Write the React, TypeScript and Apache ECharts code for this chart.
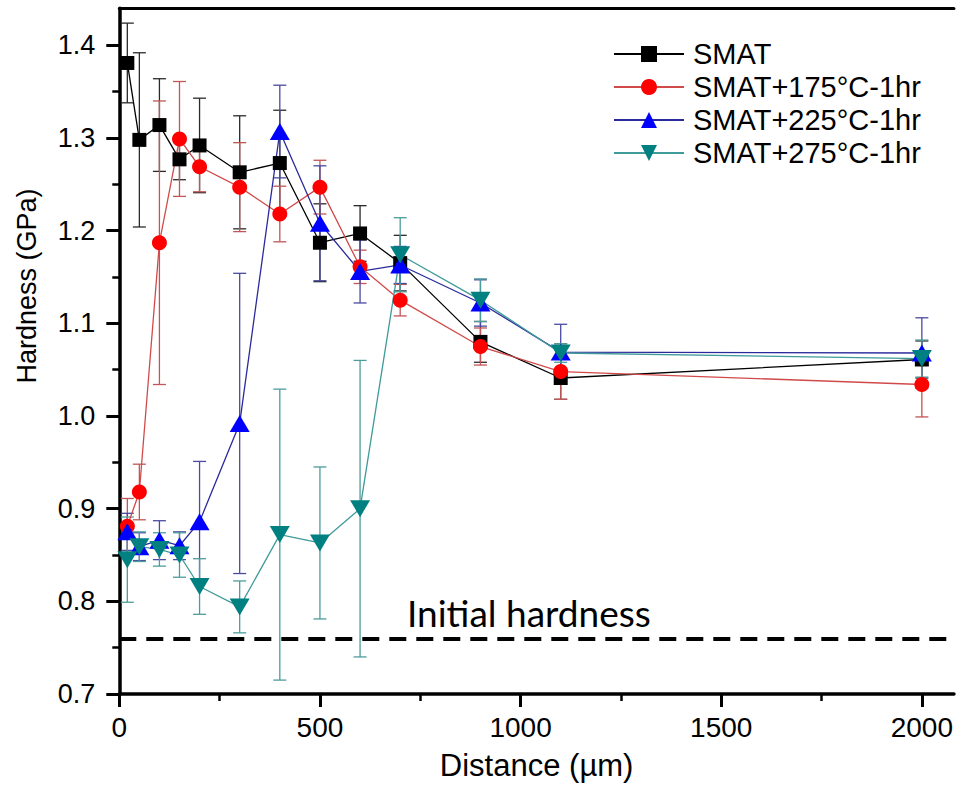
import React, { useEffect, useRef } from "react";
import * as echarts from "echarts";

const distance = [20, 50, 100, 150, 200, 300, 400, 500, 600, 700, 900, 1100, 2000];
const smat = [1.381, 1.298, 1.314, 1.277, 1.292, 1.263, 1.273, 1.187, 1.197, 1.165, 1.080, 1.041, 1.061];
const smatErr = [0.043, 0.094, 0.050, 0.022, 0.051, 0.061, 0.057, 0.042, 0.030, 0.030, 0.022, 0.023, 0.020];
const t175 = [0.881, 0.918, 1.187, 1.299, 1.269, 1.247, 1.218, 1.247, 1.161, 1.125, 1.075, 1.048, 1.034];
const t175Err = [0.030, 0.030, 0.153, 0.062, 0.027, 0.048, 0.030, 0.029, 0.018, 0.017, 0.020, 0.030, 0.035];
const t225 = [0.875, 0.859, 0.866, 0.860, 0.886, 0.992, 1.307, 1.208, 1.156, 1.163, 1.122, 1.069, 1.068];
const t225Err = [0.020, 0.015, 0.021, 0.015, 0.065, 0.162, 0.050, 0.062, 0.034, 0.020, 0.025, 0.030, 0.038];
const t275 = [0.845, 0.859, 0.856, 0.850, 0.816, 0.794, 0.872, 0.863, 0.900, 1.174, 1.125, 1.068, 1.062];
const t275Err = [0.046, 0.016, 0.018, 0.024, 0.030, 0.028, 0.157, 0.082, 0.160, 0.040, 0.023, 0.010, 0.020];
const initialHardness = 0.758;

const seriesNames = ["SMAT", "SMAT+175°C-1hr", "SMAT+225°C-1hr", "SMAT+275°C-1hr"];
const xMajor = [0, 500, 1000, 1500, 2000];
const xMinor = [250, 750, 1250, 1750];
const yMajor = [0.7, 0.8, 0.9, 1.0, 1.1, 1.2, 1.3, 1.4];
const yMinor = [0.75, 0.85, 0.95, 1.05, 1.15, 1.25, 1.35];

const FONT = "Liberation Sans, Arial, sans-serif";

export default function App() {
  const ref = useRef<HTMLDivElement>(null);
  useEffect(() => {
    if (!ref.current) return;
    const chart = echarts.init(ref.current, undefined, { renderer: "svg" });

    const groups = [
      { name: seriesNames[0], vals: smat, errs: smatErr, line: "#000000", mark: "#000000", err: "#2a2a2a", symbol: "rect", size: 14, rot: 0 },
      { name: seriesNames[1], vals: t175, errs: t175Err, line: "#d04a4a", mark: "#ff0000", err: "#c25555", symbol: "circle", size: 15, rot: 0 },
      { name: seriesNames[2], vals: t225, errs: t225Err, line: "#2a2a9c", mark: "#0000ff", err: "#4a4aa0", symbol: "triangle", size: [20, 17], rot: 0 },
      { name: seriesNames[3], vals: t275, errs: t275Err, line: "#3f9a9a", mark: "#008080", err: "#4d9c9c", symbol: "triangle", size: [20, 17], rot: 180 },
    ];

    const series: any[] = [];
    groups.forEach((g, gi) => {
      series.push({
        type: "custom",
        name: g.name + " error",
        data: distance.map((d, i) => [d, g.vals[i] - g.errs[i], g.vals[i] + g.errs[i]]),
        encode: { x: 0, y: [1, 2] },
        z: 2,
        renderItem: (params: any, api: any) => {
          const x = api.value(0);
          const lo = api.coord([x, api.value(1)]);
          const hi = api.coord([x, api.value(2)]);
          const hw = 6.5;
          const style = { stroke: g.err, lineWidth: 1.3, fill: "none" };
          return {
            type: "group",
            children: [
              { type: "line", shape: { x1: lo[0], y1: lo[1], x2: hi[0], y2: hi[1] }, style },
              { type: "line", shape: { x1: lo[0] - hw, y1: lo[1], x2: lo[0] + hw, y2: lo[1] }, style },
              { type: "line", shape: { x1: hi[0] - hw, y1: hi[1], x2: hi[0] + hw, y2: hi[1] }, style },
            ],
          };
        },
      });
      const s: any = {
        type: "line",
        name: g.name,
        data: distance.map((d, i) => [d, g.vals[i]]),
        symbol: g.symbol,
        symbolSize: g.size,
        symbolRotate: g.rot,
        showAllSymbol: true,
        lineStyle: { color: g.line, width: 1.3 },
        itemStyle: { color: g.mark, borderWidth: 0 },
        z: 2,
      };
      if (gi === 0) {
        s.markLine = {
          silent: true,
          symbol: "none",
          label: { show: false },
          lineStyle: { color: "#000", width: 4, type: [17, 10] },
          data: [{ yAxis: initialHardness }],
        };
      }
      series.push(s);
    });

    const option: any = {
      animation: false,
      backgroundColor: "#ffffff",
      grid: { left: 119.3, right: 0, top: 8.3, bottom: 104, containLabel: false },
      legend: {
        data: seriesNames,
        orient: "vertical",
        left: 608,
        top: 33,
        itemWidth: 70,
        itemHeight: 20,
        itemGap: 1,
        textStyle: { fontFamily: FONT, fontSize: 29, lineHeight: 32, color: "#000", padding: [0, 0, 0, 4] },
      },
      xAxis: [
        {
          type: "value",
          min: 0,
          max: 2080,
          position: "bottom",
          name: "Distance (µm)",
          nameLocation: "middle",
          nameGap: 56,
          nameTextStyle: { fontFamily: FONT, fontSize: 31, color: "#000" },
          axisLine: { show: true, lineStyle: { color: "#000", width: 3.5 } },
          axisTick: { show: true, customValues: xMajor, length: 13, lineStyle: { color: "#000", width: 3 } },
          axisLabel: {
            customValues: xMajor,
            fontFamily: FONT,
            fontSize: 28,
            color: "#000",
            margin: 19,
            formatter: (v: number) => String(Math.round(v)),
          },
          splitLine: { show: false },
        },
        {
          type: "value",
          min: 0,
          max: 2080,
          position: "bottom",
          axisLine: { show: false },
          axisTick: { show: true, customValues: xMinor, length: 7, lineStyle: { color: "#000", width: 2.5 } },
          axisLabel: { show: false },
          splitLine: { show: false },
        },
        {
          type: "value",
          min: 0,
          max: 2080,
          position: "top",
          axisLine: { show: true, lineStyle: { color: "#000", width: 3 } },
          axisTick: { show: false },
          axisLabel: { show: false },
          splitLine: { show: false },
        },
      ],
      yAxis: [
        {
          type: "value",
          min: 0.7,
          max: 1.44,
          position: "left",
          axisLine: { show: true, lineStyle: { color: "#000", width: 3.5 } },
          axisTick: { show: true, customValues: yMajor, length: 13, lineStyle: { color: "#000", width: 3 } },
          axisLabel: {
            customValues: yMajor,
            fontFamily: FONT,
            fontSize: 27,
            color: "#000",
            margin: 24,
            formatter: (v: number) => v.toFixed(1),
          },
          splitLine: { show: false },
        },
        {
          type: "value",
          min: 0.7,
          max: 1.44,
          position: "left",
          axisLine: { show: false },
          axisTick: { show: true, customValues: yMinor, length: 7, lineStyle: { color: "#000", width: 2.5 } },
          axisLabel: { show: false },
          splitLine: { show: false },
        },
      ],
      graphic: [
        {
          type: "text",
          x: 27,
          y: 286,
          rotation: Math.PI / 2,
          style: {
            text: "Hardness (GPa)",
            fontFamily: FONT,
            fontSize: 27,
            fill: "#000",
            align: "center",
            verticalAlign: "middle",
          },
        },
        {
          type: "text",
          x: 407,
          y: 612,
          style: {
            text: "Initial hardness",
            fontFamily: "Lato, 'Open Sans', sans-serif",
            fontSize: 37,
            fill: "#000",
            align: "left",
            verticalAlign: "middle",
          },
        },
      ],
      series,
    };
    chart.setOption(option);
    return () => chart.dispose();
  }, []);
  return <div ref={ref} style={{ position: "absolute", left: 0, top: 0, width: 956, height: 798 }} />;
}
